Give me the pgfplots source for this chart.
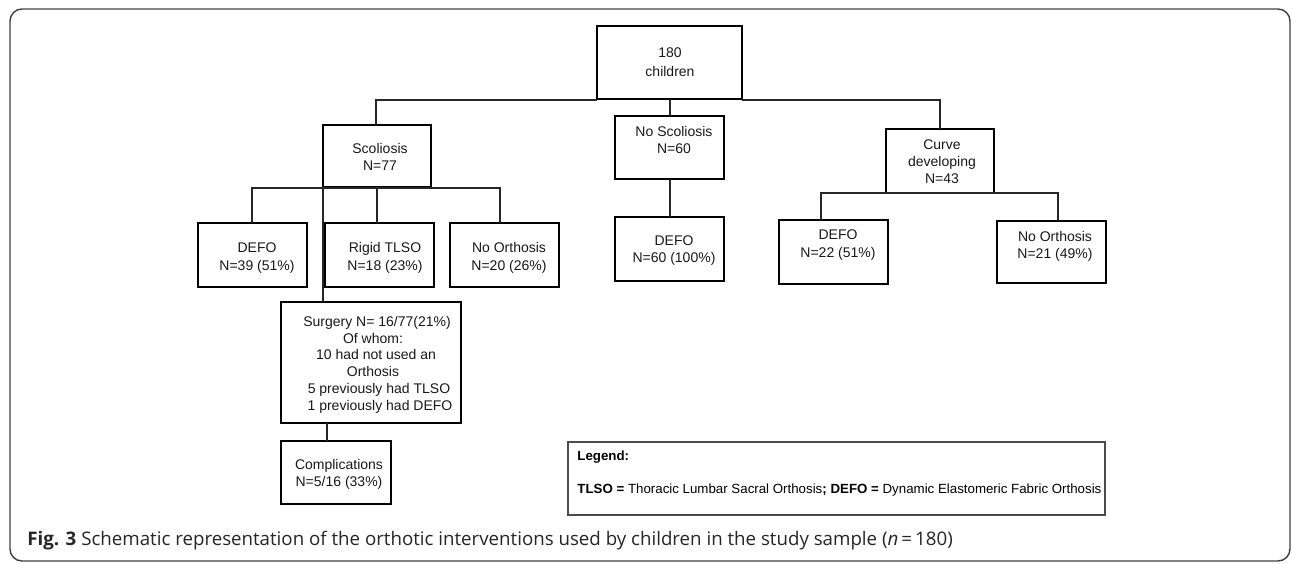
\documentclass[border=0pt]{standalone}
\usepackage{pgfplots}
\pgfplotsset{compat=1.18}
\usepackage{fontspec}
\setmainfont{Liberation Sans}
\newfontfamily\capfont{Open Sans}
\tikzset{
  box/.style={black, line width=1pt, line join=miter, mark=none},
  conn/.style={black!85, line width=0.65pt, line join=miter, mark=none},
  txt/.style={anchor=base, font=\fontsize{7}{8.5}\selectfont, text=black!90, inner sep=0pt},
}
\begin{document}
\begin{tikzpicture}
\begin{axis}[
  name=ax,
  width=646pt, height=281.5pt, scale only axis,
  xmin=0, xmax=1292, ymin=0, ymax=563, y dir=reverse,
  hide axis, clip=false,
]
\coordinate (bbtl) at (axis cs:0,0);
\coordinate (bbbr) at (axis cs:1292,563);
% outer frame
\draw[black!75, line width=0.7pt, rounded corners=6pt] (axis cs:10,9) rectangle (axis cs:1290,561);

% boxes
\addplot[box] coordinates {(597,26)(742,26)(742,99)(597,99)} --cycle;
\addplot[box] coordinates {(323,125)(431,125)(431,187)(323,187)} --cycle;
\addplot[box] coordinates {(615,116)(724,116)(724,179)(615,179)} --cycle;
\addplot[box] coordinates {(886,129)(994,129)(994,193)(886,193)} --cycle;
\addplot[box] coordinates {(198,223)(307,223)(307,287)(198,287)} --cycle;
\addplot[box] coordinates {(325,223)(434,223)(434,287)(325,287)} --cycle;
\addplot[box] coordinates {(450,223)(559,223)(559,287)(450,287)} --cycle;
\addplot[box] coordinates {(615,217)(724,217)(724,281)(615,281)} --cycle;
\addplot[box] coordinates {(779,220)(888,220)(888,284)(779,284)} --cycle;
\addplot[box] coordinates {(997,221)(1106,221)(1106,283)(997,283)} --cycle;
\addplot[box] coordinates {(281,302)(461,302)(461,423)(281,423)} --cycle;
\addplot[box] coordinates {(281,441)(391,441)(391,504)(281,504)} --cycle;
\addplot[black!70, line width=0.6pt, mark=none] coordinates {(568,442)(1105,442)(1105,515)(568,515)} --cycle;

% connectors
\addplot[conn] coordinates {(376,125)(376,100)(597,100)};
\addplot[conn] coordinates {(742,100)(940,100)(940,129)};
\addplot[conn] coordinates {(670,99)(670,116)};
\addplot[conn] coordinates {(670,179)(670,217)};
\addplot[conn] coordinates {(252,223)(252,188)(500,188)(500,223)};
\addplot[conn] coordinates {(377,188)(377,223)};
\addplot[conn] coordinates {(323,187)(323,302)};
\addplot[conn] coordinates {(327,423)(327,441)};
\addplot[conn] coordinates {(821,220)(821,193)(1058,193)(1058,221)};

% texts
\node[txt] at (axis cs:670,57) {180};
\node[txt] at (axis cs:670,76) {children};
\node[txt] at (axis cs:380,153) {Scoliosis};
\node[txt] at (axis cs:380,170) {N=77};
\node[txt] at (axis cs:674,136) {No Scoliosis};
\node[txt] at (axis cs:674,153) {N=60};
\node[txt] at (axis cs:942,149) {Curve};
\node[txt] at (axis cs:942,166) {developing};
\node[txt] at (axis cs:942,183) {N=43};
\node[txt] at (axis cs:257,252) {DEFO};
\node[txt] at (axis cs:257,270) {N=39 (51\%)};
\node[txt] at (axis cs:385,252) {Rigid TLSO};
\node[txt] at (axis cs:385,270) {N=18 (23\%)};
\node[txt] at (axis cs:509,252) {No Orthosis};
\node[txt] at (axis cs:509,270) {N=20 (26\%)};
\node[txt] at (axis cs:674,245) {DEFO};
\node[txt] at (axis cs:674,262) {N=60 (100\%)};
\node[txt] at (axis cs:838,239) {DEFO};
\node[txt] at (axis cs:838,257) {N=22 (51\%)};
\node[txt] at (axis cs:1055,241) {No Orthosis};
\node[txt] at (axis cs:1055,258) {N=21 (49\%)};
\node[txt] at (axis cs:377,326) {Surgery N= 16/77(21\%)};
\node[txt] at (axis cs:373,343) {Of whom:};
\node[txt] at (axis cs:376,359) {10 had not used an};
\node[txt] at (axis cs:373,376) {Orthosis};
\node[txt] at (axis cs:379,393) {5 previously had TLSO};
\node[txt] at (axis cs:380,410) {1 previously had DEFO};
\node[txt] at (axis cs:339,469) {Complications};
\node[txt] at (axis cs:339,486) {N=5/16 (33\%)};

% legend
\node[anchor=base west, inner sep=0pt, font=\fontsize{6.65}{8}\selectfont\bfseries] at (axis cs:577,460) {Legend:};
\node[anchor=base west, inner sep=0pt, font=\fontsize{6.65}{8}\selectfont] at (axis cs:577,493) {\textbf{TLSO =} Thoracic Lumbar Sacral Orthosis\textbf{; DEFO =} Dynamic Elastomeric Fabric Orthosis};

% caption
\node[anchor=base west, inner sep=0pt, text=black!85, font=\capfont\fontsize{9.35}{11}\selectfont] at (axis cs:27,545) {\textbf{Fig. 3} Schematic representation of the orthotic interventions used by children in the study sample (\textit{n}\,=\,180)};
\end{axis}
\pgfresetboundingbox
\useasboundingbox (bbtl) rectangle (bbbr);
\end{tikzpicture}
\end{document}
